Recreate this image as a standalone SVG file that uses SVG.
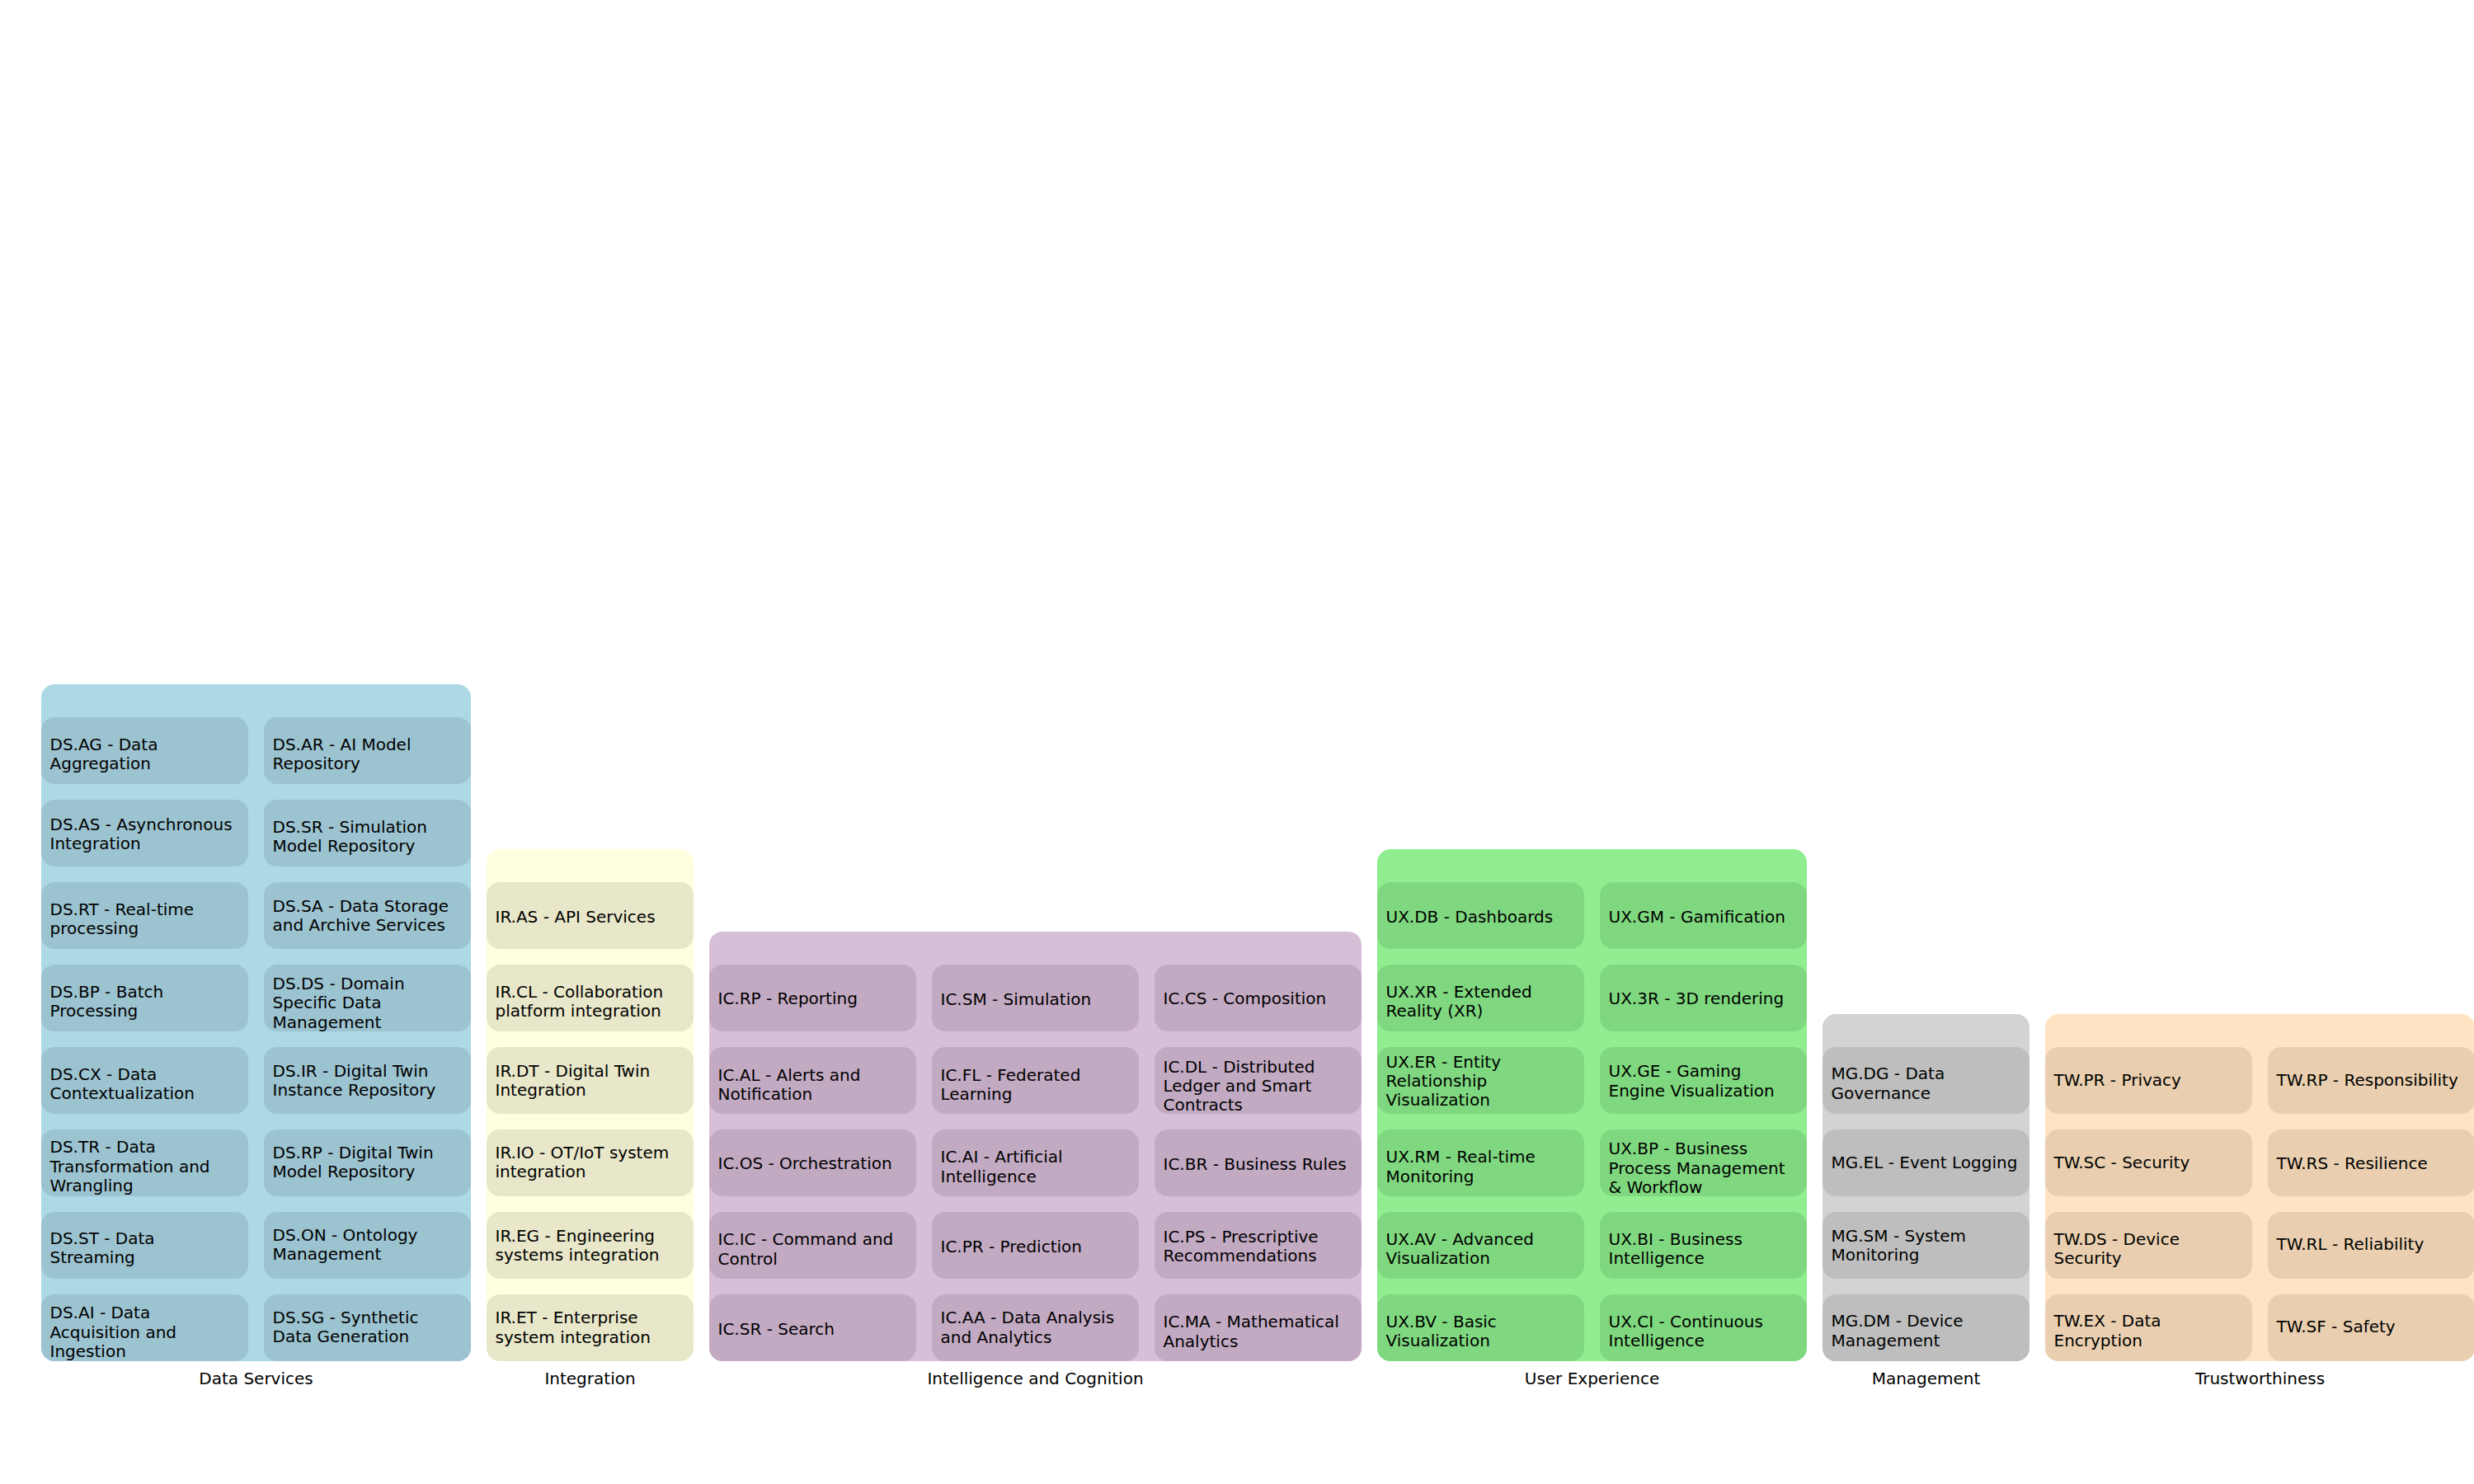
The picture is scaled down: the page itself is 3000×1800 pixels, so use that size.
<svg xmlns="http://www.w3.org/2000/svg" width="3000" height="1800" viewBox="0 0 3000 1800">
<style>
text{font-family:"DejaVu Sans","Liberation Sans",sans-serif;font-size:20px;fill:#000}
.lbl{text-anchor:middle}
.cl{rx:16px;ry:16px}
.n{rx:16px;ry:16px}
.ds{fill:#ADD8E6}.ds .n{fill:#9CC3D0}
.ir{fill:#FFFFE0}.ir .n{fill:#E8E7C9}
.ic{fill:#D8BFD8}.ic .n{fill:#C3AAC3}
.ux{fill:#90EE90}.ux .n{fill:#7FD87F}
.mg{fill:#D3D3D3}.mg .n{fill:#BEBEBE}
.tw{fill:#FFE4C4}.tw .n{fill:#E9CFAF}
</style>
<rect width="3000" height="1800" fill="#fff"/>
<g id="connectors"/>

<g id="cluster_ds" class="ds">
<rect class="cl" x="50" y="830" width="521" height="821"/>
<text class="lbl" x="310.5" y="1679">Data Services</text>
<g id="DS.AG"><rect class="n" x="50" y="870" width="251" height="81"/><text x="60.5" y="910">DS.AG - Data<tspan x="60.5" y="933.3">Aggregation</tspan></text></g>
<g id="DS.AS"><rect class="n" x="50" y="970" width="251" height="81"/><text x="60.5" y="1006.5">DS.AS - Asynchronous<tspan x="60.5" y="1029.8">Integration</tspan></text></g>
<g id="DS.RT"><rect class="n" x="50" y="1070" width="251" height="81"/><text x="60.5" y="1110">DS.RT - Real-time<tspan x="60.5" y="1133.3">processing</tspan></text></g>
<g id="DS.BP"><rect class="n" x="50" y="1170" width="251" height="81"/><text x="60.5" y="1210">DS.BP - Batch<tspan x="60.5" y="1233.3">Processing</tspan></text></g>
<g id="DS.CX"><rect class="n" x="50" y="1270" width="251" height="81"/><text x="60.5" y="1310">DS.CX - Data<tspan x="60.5" y="1333.3">Contextualization</tspan></text></g>
<g id="DS.TR"><rect class="n" x="50" y="1370" width="251" height="81"/><text x="60.5" y="1398.3">DS.TR - Data<tspan x="60.5" y="1421.6">Transformation and</tspan><tspan x="60.5" y="1444.9">Wrangling</tspan></text></g>
<g id="DS.ST"><rect class="n" x="50" y="1470" width="251" height="81"/><text x="60.5" y="1509">DS.ST - Data<tspan x="60.5" y="1532.3">Streaming</tspan></text></g>
<g id="DS.AI"><rect class="n" x="50" y="1570" width="251" height="81"/><text x="60.5" y="1599.3">DS.AI - Data<tspan x="60.5" y="1622.6">Acquisition and</tspan><tspan x="60.5" y="1645.9">Ingestion</tspan></text></g>
<g id="DS.AR"><rect class="n" x="320" y="870" width="251" height="81"/><text x="330.5" y="910">DS.AR - AI Model<tspan x="330.5" y="933.3">Repository</tspan></text></g>
<g id="DS.SR"><rect class="n" x="320" y="970" width="251" height="81"/><text x="330.5" y="1010">DS.SR - Simulation<tspan x="330.5" y="1033.3">Model Repository</tspan></text></g>
<g id="DS.SA"><rect class="n" x="320" y="1070" width="251" height="81"/><text x="330.5" y="1106">DS.SA - Data Storage<tspan x="330.5" y="1129.3">and Archive Services</tspan></text></g>
<g id="DS.DS"><rect class="n" x="320" y="1170" width="251" height="81"/><text x="330.5" y="1200">DS.DS - Domain<tspan x="330.5" y="1223.3">Specific Data</tspan><tspan x="330.5" y="1246.6">Management</tspan></text></g>
<g id="DS.IR"><rect class="n" x="320" y="1270" width="251" height="81"/><text x="330.5" y="1306">DS.IR - Digital Twin<tspan x="330.5" y="1329.3">Instance Repository</tspan></text></g>
<g id="DS.RP"><rect class="n" x="320" y="1370" width="251" height="81"/><text x="330.5" y="1405">DS.RP - Digital Twin<tspan x="330.5" y="1428.3">Model Repository</tspan></text></g>
<g id="DS.ON"><rect class="n" x="320" y="1470" width="251" height="81"/><text x="330.5" y="1505">DS.ON - Ontology<tspan x="330.5" y="1528.3">Management</tspan></text></g>
<g id="DS.SG"><rect class="n" x="320" y="1570" width="251" height="81"/><text x="330.5" y="1605">DS.SG - Synthetic<tspan x="330.5" y="1628.3">Data Generation</tspan></text></g>
</g>

<g id="cluster_ir" class="ir">
<rect class="cl" x="590" y="1030" width="251" height="621"/>
<text class="lbl" x="715.5" y="1679">Integration</text>
<g id="IR.AS"><rect class="n" x="590" y="1070" width="251" height="81"/><text x="600.5" y="1119">IR.AS - API Services</text></g>
<g id="IR.CL"><rect class="n" x="590" y="1170" width="251" height="81"/><text x="600.5" y="1210">IR.CL - Collaboration<tspan x="600.5" y="1233.3">platform integration</tspan></text></g>
<g id="IR.DT"><rect class="n" x="590" y="1270" width="251" height="81"/><text x="600.5" y="1306">IR.DT - Digital Twin<tspan x="600.5" y="1329.3">Integration</tspan></text></g>
<g id="IR.IO"><rect class="n" x="590" y="1370" width="251" height="81"/><text x="600.5" y="1405">IR.IO - OT/IoT system<tspan x="600.5" y="1428.3">integration</tspan></text></g>
<g id="IR.EG"><rect class="n" x="590" y="1470" width="251" height="81"/><text x="600.5" y="1505.7">IR.EG - Engineering<tspan x="600.5" y="1529">systems integration</tspan></text></g>
<g id="IR.ET"><rect class="n" x="590" y="1570" width="251" height="81"/><text x="600.5" y="1605.4">IR.ET - Enterprise<tspan x="600.5" y="1628.7">system integration</tspan></text></g>
</g>

<g id="cluster_ic" class="ic">
<rect class="cl" x="860" y="1130" width="791" height="521"/>
<text class="lbl" x="1255.5" y="1679">Intelligence and Cognition</text>
<g id="IC.RP"><rect class="n" x="860" y="1170" width="251" height="81"/><text x="870.5" y="1218">IC.RP - Reporting</text></g>
<g id="IC.AL"><rect class="n" x="860" y="1270" width="251" height="81"/><text x="870.5" y="1310.5">IC.AL - Alerts and<tspan x="870.5" y="1333.8">Notification</tspan></text></g>
<g id="IC.OS"><rect class="n" x="860" y="1370" width="251" height="81"/><text x="870.5" y="1418">IC.OS - Orchestration</text></g>
<g id="IC.IC"><rect class="n" x="860" y="1470" width="251" height="81"/><text x="870.5" y="1510.3">IC.IC - Command and<tspan x="870.5" y="1533.6">Control</tspan></text></g>
<g id="IC.SR"><rect class="n" x="860" y="1570" width="251" height="81"/><text x="870.5" y="1618.5">IC.SR - Search</text></g>
<g id="IC.SM"><rect class="n" x="1130" y="1170" width="251" height="81"/><text x="1140.5" y="1219">IC.SM - Simulation</text></g>
<g id="IC.FL"><rect class="n" x="1130" y="1270" width="251" height="81"/><text x="1140.5" y="1310.5">IC.FL - Federated<tspan x="1140.5" y="1333.8">Learning</tspan></text></g>
<g id="IC.AI"><rect class="n" x="1130" y="1370" width="251" height="81"/><text x="1140.5" y="1410.4">IC.AI - Artificial<tspan x="1140.5" y="1433.7">Intelligence</tspan></text></g>
<g id="IC.PR"><rect class="n" x="1130" y="1470" width="251" height="81"/><text x="1140.5" y="1519">IC.PR - Prediction</text></g>
<g id="IC.AA"><rect class="n" x="1130" y="1570" width="251" height="81"/><text x="1140.5" y="1605.4">IC.AA - Data Analysis<tspan x="1140.5" y="1628.7">and Analytics</tspan></text></g>
<g id="IC.CS"><rect class="n" x="1400" y="1170" width="251" height="81"/><text x="1410.5" y="1218">IC.CS - Composition</text></g>
<g id="IC.DL"><rect class="n" x="1400" y="1270" width="251" height="81"/><text x="1410.5" y="1300.5">IC.DL - Distributed<tspan x="1410.5" y="1323.8">Ledger and Smart</tspan><tspan x="1410.5" y="1347.1">Contracts</tspan></text></g>
<g id="IC.BR"><rect class="n" x="1400" y="1370" width="251" height="81"/><text x="1410.5" y="1419">IC.BR - Business Rules</text></g>
<g id="IC.PS"><rect class="n" x="1400" y="1470" width="251" height="81"/><text x="1410.5" y="1506.6">IC.PS - Prescriptive<tspan x="1410.5" y="1529.9">Recommendations</tspan></text></g>
<g id="IC.MA"><rect class="n" x="1400" y="1570" width="251" height="81"/><text x="1410.5" y="1610.2">IC.MA - Mathematical<tspan x="1410.5" y="1633.5">Analytics</tspan></text></g>
</g>

<g id="cluster_ux" class="ux">
<rect class="cl" x="1670" y="1030" width="521" height="621"/>
<text class="lbl" x="1930.5" y="1679">User Experience</text>
<g id="UX.DB"><rect class="n" x="1670" y="1070" width="251" height="81"/><text x="1680.5" y="1119">UX.DB - Dashboards</text></g>
<g id="UX.XR"><rect class="n" x="1670" y="1170" width="251" height="81"/><text x="1680.5" y="1210">UX.XR - Extended<tspan x="1680.5" y="1233.3">Reality (XR)</tspan></text></g>
<g id="UX.ER"><rect class="n" x="1670" y="1270" width="251" height="81"/><text x="1680.5" y="1294.5">UX.ER - Entity<tspan x="1680.5" y="1317.8">Relationship</tspan><tspan x="1680.5" y="1341.1">Visualization</tspan></text></g>
<g id="UX.RM"><rect class="n" x="1670" y="1370" width="251" height="81"/><text x="1680.5" y="1410.3">UX.RM - Real-time<tspan x="1680.5" y="1433.6">Monitoring</tspan></text></g>
<g id="UX.AV"><rect class="n" x="1670" y="1470" width="251" height="81"/><text x="1680.5" y="1510">UX.AV - Advanced<tspan x="1680.5" y="1533.3">Visualization</tspan></text></g>
<g id="UX.BV"><rect class="n" x="1670" y="1570" width="251" height="81"/><text x="1680.5" y="1609.8">UX.BV - Basic<tspan x="1680.5" y="1633.1">Visualization</tspan></text></g>
<g id="UX.GM"><rect class="n" x="1940" y="1070" width="251" height="81"/><text x="1950.5" y="1119">UX.GM - Gamification</text></g>
<g id="UX.3R"><rect class="n" x="1940" y="1170" width="251" height="81"/><text x="1950.5" y="1218">UX.3R - 3D rendering</text></g>
<g id="UX.GE"><rect class="n" x="1940" y="1270" width="251" height="81"/><text x="1950.5" y="1306.2">UX.GE - Gaming<tspan x="1950.5" y="1329.5">Engine Visualization</tspan></text></g>
<g id="UX.BP"><rect class="n" x="1940" y="1370" width="251" height="81"/><text x="1950.5" y="1400.3">UX.BP - Business<tspan x="1950.5" y="1423.6">Process Management</tspan><tspan x="1950.5" y="1446.9">&amp; Workflow</tspan></text></g>
<g id="UX.BI"><rect class="n" x="1940" y="1470" width="251" height="81"/><text x="1950.5" y="1510">UX.BI - Business<tspan x="1950.5" y="1533.3">Intelligence</tspan></text></g>
<g id="UX.CI"><rect class="n" x="1940" y="1570" width="251" height="81"/><text x="1950.5" y="1610">UX.CI - Continuous<tspan x="1950.5" y="1633.3">Intelligence</tspan></text></g>
</g>

<g id="cluster_mg" class="mg">
<rect class="cl" x="2210" y="1230" width="251" height="421"/>
<text class="lbl" x="2335.5" y="1679">Management</text>
<g id="MG.DG"><rect class="n" x="2210" y="1270" width="251" height="81"/><text x="2220.5" y="1309.3">MG.DG - Data<tspan x="2220.5" y="1332.6">Governance</tspan></text></g>
<g id="MG.EL"><rect class="n" x="2210" y="1370" width="251" height="81"/><text x="2220.5" y="1417">MG.EL - Event Logging</text></g>
<g id="MG.SM"><rect class="n" x="2210" y="1470" width="251" height="81"/><text x="2220.5" y="1506">MG.SM - System<tspan x="2220.5" y="1529.3">Monitoring</tspan></text></g>
<g id="MG.DM"><rect class="n" x="2210" y="1570" width="251" height="81"/><text x="2220.5" y="1609.3">MG.DM - Device<tspan x="2220.5" y="1632.6">Management</tspan></text></g>
</g>

<g id="cluster_tw" class="tw">
<rect class="cl" x="2480" y="1230" width="521" height="421"/>
<text class="lbl" x="2740.5" y="1679">Trustworthiness</text>
<g id="TW.PR"><rect class="n" x="2480" y="1270" width="251" height="81"/><text x="2490.5" y="1317">TW.PR - Privacy</text></g>
<g id="TW.SC"><rect class="n" x="2480" y="1370" width="251" height="81"/><text x="2490.5" y="1417">TW.SC - Security</text></g>
<g id="TW.DS"><rect class="n" x="2480" y="1470" width="251" height="81"/><text x="2490.5" y="1510">TW.DS - Device<tspan x="2490.5" y="1533.3">Security</tspan></text></g>
<g id="TW.EX"><rect class="n" x="2480" y="1570" width="251" height="81"/><text x="2490.5" y="1609.3">TW.EX - Data<tspan x="2490.5" y="1632.6">Encryption</tspan></text></g>
<g id="TW.RP"><rect class="n" x="2750" y="1270" width="251" height="81"/><text x="2760.5" y="1317">TW.RP - Responsibility</text></g>
<g id="TW.RS"><rect class="n" x="2750" y="1370" width="251" height="81"/><text x="2760.5" y="1418">TW.RS - Resilience</text></g>
<g id="TW.RL"><rect class="n" x="2750" y="1470" width="251" height="81"/><text x="2760.5" y="1516">TW.RL - Reliability</text></g>
<g id="TW.SF"><rect class="n" x="2750" y="1570" width="251" height="81"/><text x="2760.5" y="1616">TW.SF - Safety</text></g>
</g>
</svg>
